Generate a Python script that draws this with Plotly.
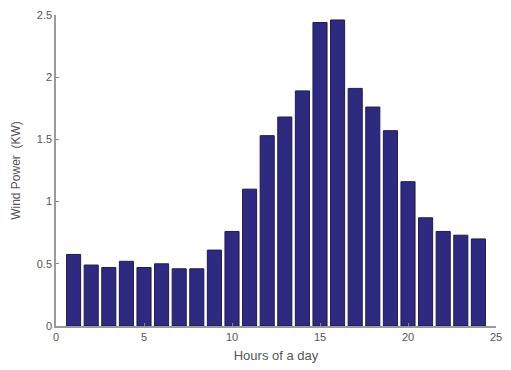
import plotly.graph_objects as go

# Hourly average wind power over a day
hours = list(range(1, 25))
wind_power_kw = [0.575, 0.49, 0.47, 0.52, 0.47, 0.50, 0.46, 0.46, 0.61, 0.76,
                 1.10, 1.53, 1.68, 1.89, 2.44, 2.46, 1.91, 1.76, 1.57, 1.16,
                 0.87, 0.76, 0.73, 0.70]

x_ticks = [0, 5, 10, 15, 20, 25]
y_ticks = [0, 0.5, 1, 1.5, 2, 2.5]
y_tick_text = ["0", "0.5", "1", "1.5", "2", "2.5"]

fig = go.Figure(
    go.Bar(
        x=hours,
        y=wind_power_kw,
        width=0.8,
        marker=dict(color="#2e2a80", line=dict(color="#1e1b4f", width=1)),
    )
)

axis_font = dict(family="Liberation Sans, Arial, sans-serif", size=11, color="#555555")

fig.update_layout(
    width=511,
    height=370,
    margin=dict(l=56, r=9, t=14, b=43),
    paper_bgcolor="white",
    plot_bgcolor="white",
    showlegend=False,
    font=axis_font,
    xaxis=dict(
        range=[0, 25],
        tickvals=x_ticks,
        ticks="inside",
        ticklen=3,
        tickcolor="#888888",
        showline=True,
        linecolor="#9a9a9a",
        linewidth=1.5,
        showgrid=False,
        zeroline=False,
        tickfont=axis_font,
        title=dict(text="Hours of a day", font=dict(size=13, color="#555555"), standoff=9),
    ),
    yaxis=dict(
        range=[0, 2.5],
        tickvals=y_ticks,
        ticktext=y_tick_text,
        ticks="inside",
        ticklen=3,
        tickcolor="#888888",
        showline=True,
        linecolor="#9a9a9a",
        linewidth=1.5,
        showgrid=False,
        zeroline=False,
        tickfont=axis_font,
        title=dict(text="Wind Power  (KW)", font=dict(size=12, color="#555555"), standoff=14),
    ),
)

fig.write_html("out.html")
